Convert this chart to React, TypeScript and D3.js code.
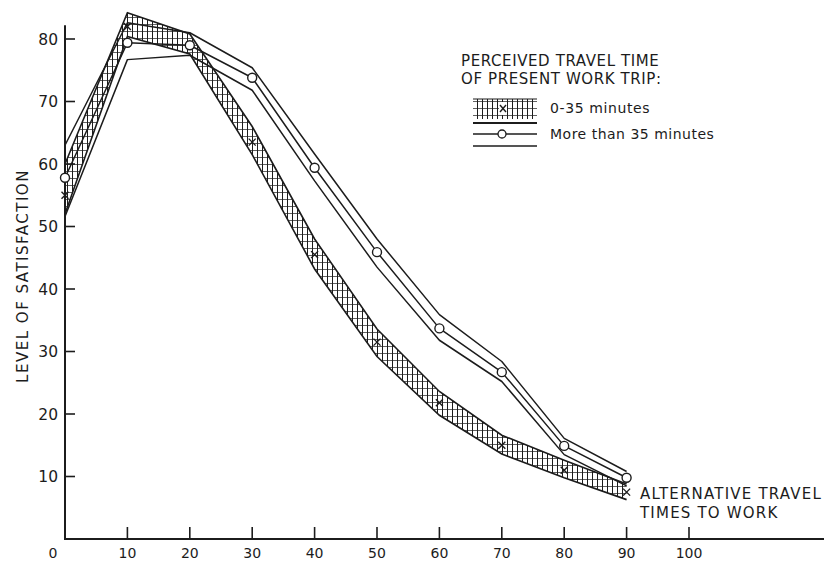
import React from "react";
import * as d3 from "d3";

// Alternative travel times to work (minutes)
const travelTimes = [0, 10, 20, 30, 40, 50, 60, 70, 80, 90];

// 0-35 minutes group (hatched band, x markers)
const shortMid = [55, 82, 79, 63.5, 45.5, 31.5, 21.8, 15, 11, 7.5];
const shortUpper = [60, 84.2, 80.8, 66, 48, 33.6, 23.6, 16.6, 12.6, 8.8];
const shortLower = [52, 80.4, 77.6, 61.5, 43.2, 29.2, 19.8, 13.6, 9.8, 6.3];

// More than 35 minutes group (three lines, circle markers)
const longMid = [57.8, 79.4, 79, 73.8, 59.4, 45.9, 33.7, 26.7, 14.9, 9.8];
const longUpper = [63, 82.6, 81, 75.4, 61.6, 48, 35.9, 28.4, 16.1, 10.8];
const longLower = [51.6, 76.7, 77.4, 71.8, 57.3, 43.5, 31.8, 25.2, 13.5, 8.5];

const xTicks = [0, 10, 20, 30, 40, 50, 60, 70, 80, 90, 100];
const yTicks = [10, 20, 30, 40, 50, 60, 70, 80];

const W = 830;
const H = 561;
const INK = "#1c1c1c";
const FONT = "'DejaVu Sans', sans-serif";

const App: React.FC = () => {
  const x = d3.scaleLinear().domain([0, 100]).range([65, 689]);
  const y = d3.scaleLinear().domain([0, 80]).range([539, 39]);

  const lineOf = (vals: number[]) =>
    d3
      .line<number>()
      .x((_, i) => x(travelTimes[i]))
      .y((d) => y(d))(vals) || "";

  const band = d3
    .area<number>()
    .x((_, i) => x(travelTimes[i]))
    .y0((_, i) => y(shortLower[i]))
    .y1((d) => y(d))(shortUpper) || "";

  const xEnd = 824;
  const yTop = y(82.2);

  return (
    <svg
      width={W}
      height={H}
      style={{ position: "absolute", left: 0, top: 0, background: "#fff" }}
      fontFamily={FONT}
    >
      <defs>
        <pattern id="hatch" width={5} height={7} patternUnits="userSpaceOnUse">
          <line x1={2.5} y1={0} x2={2.5} y2={7} stroke={INK} strokeWidth={1} />
          <line x1={0} y1={3.5} x2={5} y2={3.5} stroke={INK} strokeWidth={0.7} />
        </pattern>
      </defs>

      {/* axes */}
      <line x1={x(0)} y1={y(0)} x2={xEnd} y2={y(0)} stroke={INK} strokeWidth={2} />
      <line x1={x(0)} y1={y(0) + 1} x2={x(0)} y2={yTop} stroke={INK} strokeWidth={2} />

      {xTicks.map((t) => (
        <g key={`xt${t}`}>
          {t > 0 && (
            <line x1={x(t)} x2={x(t)} y1={y(0)} y2={y(0) - 12} stroke={INK} strokeWidth={1.6} />
          )}
          <text
            x={t === 0 ? x(0) - 12 : x(t)}
            y={y(0) + 19}
            textAnchor="middle"
            fontSize={14}
            fill={INK}
          >
            {t}
          </text>
        </g>
      ))}

      {yTicks.map((t) => (
        <g key={`yt${t}`}>
          <line x1={x(0)} x2={x(0) + 10} y1={y(t)} y2={y(t)} stroke={INK} strokeWidth={1.6} />
          <text x={x(0) - 7} y={y(t)} dy="0.36em" textAnchor="end" fontSize={15.5} fill={INK}>
            {t}
          </text>
        </g>
      ))}

      <text
        transform={`translate(28, 276) rotate(-90)`}
        textAnchor="middle"
        fontSize={15}
        letterSpacing={1.5}
        fill={INK}
      >
        LEVEL OF SATISFACTION
      </text>

      {/* more than 35 minutes */}
      {[longUpper, longMid, longLower].map((vals, k) => (
        <path key={`l${k}`} d={lineOf(vals)} fill="none" stroke={INK} strokeWidth={1.5} strokeLinejoin="round" />
      ))}

      {/* 0-35 minutes band */}
      <path d={band} fill="url(#hatch)" stroke="none" />
      <path d={lineOf(shortUpper)} fill="none" stroke={INK} strokeWidth={1.6} />
      <path d={lineOf(shortLower)} fill="none" stroke={INK} strokeWidth={1.6} />

      {shortMid.map((v, i) => (
        <g key={`x${i}`} stroke={INK} strokeWidth={1.4}>
          <line x1={x(travelTimes[i]) - 3.5} y1={y(v) - 3.5} x2={x(travelTimes[i]) + 3.5} y2={y(v) + 3.5} />
          <line x1={x(travelTimes[i]) - 3.5} y1={y(v) + 3.5} x2={x(travelTimes[i]) + 3.5} y2={y(v) - 3.5} />
        </g>
      ))}

      {longMid.map((v, i) => (
        <circle key={`c${i}`} cx={x(travelTimes[i])} cy={y(v)} r={4.5} fill="#fff" stroke={INK} strokeWidth={1.4} />
      ))}

      {/* annotation */}
      <text x={640} y={499} fontSize={15} fill={INK} letterSpacing={1.2}>
        ALTERNATIVE TRAVEL
      </text>
      <text x={640} y={518} fontSize={15} fill={INK} letterSpacing={1.2}>
        TIMES TO WORK
      </text>

      {/* legend */}
      <text x={461} y={66} fontSize={15} fill={INK} letterSpacing={0.6}>
        PERCEIVED TRAVEL TIME
      </text>
      <text x={461} y={84} fontSize={15} fill={INK} letterSpacing={0.6}>
        OF PRESENT WORK TRIP:
      </text>

      <rect x={473} y={99} width={64} height={20} fill="url(#hatch)" />
      <line x1={473} x2={537} y1={99} y2={99} stroke={INK} strokeWidth={1} />
      <line x1={473} x2={537} y1={123} y2={123} stroke={INK} strokeWidth={2} />
      <rect x={499} y={102} width={8} height={13} fill="#fff" />
      <g stroke={INK} strokeWidth={1.4}>
        <line x1={500} y1={105} x2={506} y2={112} />
        <line x1={500} y1={112} x2={506} y2={105} />
      </g>
      <text x={550} y={113} fontSize={14} fill={INK} letterSpacing={0.6}>
        0-35 minutes
      </text>

      <line x1={473} x2={537} y1={134} y2={134} stroke={INK} strokeWidth={1.3} />
      <circle cx={502} cy={134} r={4} fill="#fff" stroke={INK} strokeWidth={1.3} />
      <line x1={473} x2={537} y1={146} y2={146} stroke={INK} strokeWidth={1.5} />
      <text x={550} y={139} fontSize={14} fill={INK} letterSpacing={0.5}>
        More than 35 minutes
      </text>
    </svg>
  );
};

export default App;
